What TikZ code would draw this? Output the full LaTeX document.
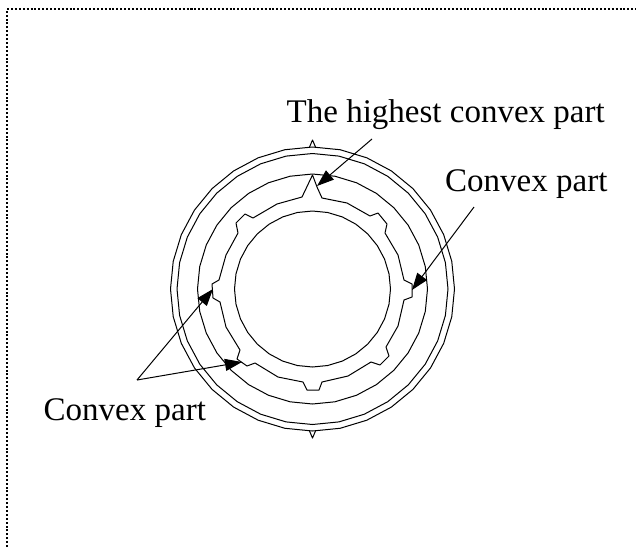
\documentclass[tikz,border=0pt]{standalone}
\usepackage{fontspec}
\setmainfont{Liberation Serif}
\usetikzlibrary{arrows.meta}
\tikzset{
  ring/.style={draw=black,line width=1pt,line join=round},
  pointer/.style={draw=black,line width=1pt,-{Triangle[length=17pt,width=12pt]}},
  frameline/.style={draw=black,line width=2pt,dash pattern=on 2pt off 1.9pt},
  label/.style={inner sep=0pt,font=\fontsize{33}{33}\selectfont,anchor=base west}
}
\begin{document}
\begin{tikzpicture}[x=1pt,y=-1pt]
\useasboundingbox (0,0) rectangle (636,547);
\draw[frameline] (7,547) -- (7,9) -- (636,9);
% faceted rings
\foreach \r in {142,135.5,115,78}{
  \draw[ring] plot[samples=33,domain=0:360] ({312.5+\r*cos(\x)},{289+\r*sin(\x)}) -- cycle;
}
% small marks on the outer ring
\draw[ring] (309.5,147) -- (312.5,140) -- (315.5,147);
\draw[ring] (309.5,431) -- (312.5,438) -- (315.5,431);
% toothed ring
\draw[ring] (312.5,175) -- (317,187) -- (322,198) -- (347,203) -- (370,216) -- (378,213)
 -- (387,224) -- (385,233) -- (398,255) -- (404,280) -- (412,284) -- (412,297) -- (404,300)
 -- (398,326) -- (386,347) -- (389,356) -- (380,365) -- (371,362) -- (348,376) -- (322,382)
 -- (319,390) -- (307,390) -- (303,382) -- (278,377) -- (255,363) -- (247,366) -- (237,359)
 -- (240,350) -- (226,327) -- (220,302) -- (213,298) -- (212,284) -- (219,280) -- (226,255)
 -- (238,233) -- (236,223) -- (245,214) -- (253,218) -- (277,204) -- (302,197) -- cycle;
% labels
\node[label] (top) at (286.5,122) {The highest convex part};
\node[label] (right) at (445,191.5) {Convex part};
\node[label] (left) at (43.5,420.5) {Convex part};
% pointers
\coordinate (topstart) at (372,139);
\coordinate (toptip) at (317,186);
\coordinate (rightstart) at (474,207);
\coordinate (righttip) at (412,290);
\coordinate (apex) at (137,380);
\coordinate (lefttipa) at (213,289);
\coordinate (lefttipb) at (242,362);
\draw[pointer] (topstart) -- (toptip);
\draw[pointer] (rightstart) -- (righttip);
\draw[pointer] (apex) -- (lefttipa);
\draw[pointer] (apex) -- (lefttipb);
\end{tikzpicture}
\end{document}
